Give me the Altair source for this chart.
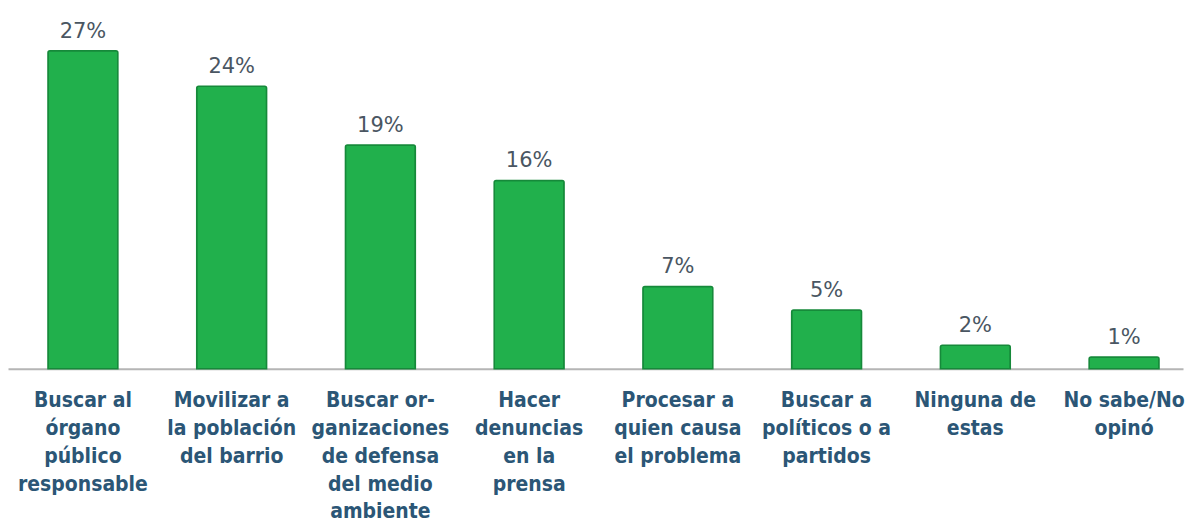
import altair as alt
import pandas as pd

categories = [
    "Buscar al|órgano|público|responsable",
    "Movilizar a|la población|del barrio",
    "Buscar or-|ganizaciones|de defensa|del medio|ambiente",
    "Hacer|denuncias|en la|prensa",
    "Procesar a|quien causa|el problema",
    "Buscar a|políticos o a|partidos",
    "Ninguna de|estas",
    "No sabe/No|opinó",
]
values = [27, 24, 19, 16, 7, 5, 2, 1]
value_labels = [f"{v}%" for v in values]

df = pd.DataFrame({"cat": categories, "val": values, "lab": value_labels})

x = alt.X(
    "cat:N",
    sort=categories,
    title=None,
    scale=alt.Scale(paddingInner=0.53, paddingOuter=0.215, align=0.625),
    axis=alt.Axis(
        labelExpr="split(datum.label, '|')",
        labelAngle=0,
        labelFont="Liberation Sans Narrow, DejaVu Sans Condensed, sans-serif",
        labelFontWeight="bold",
        labelFontSize=21,
        labelLineHeight=27.8,
        labelColor="#2b5676",
        labelBaseline="top",
        labelPadding=21,
        labelLimit=0,
        labelOverlap=False,
        ticks=False,
        tickSize=0,
        domainColor="#b5b5b5",
        domainWidth=2,
    ),
)
y = alt.Y("val:Q", scale=alt.Scale(domain=[0, 30.6], nice=False), axis=None)

bars = alt.Chart(df).mark_bar(
    color="#21b04c", stroke="#16893a", strokeWidth=1.5, cornerRadiusTopLeft=2, cornerRadiusTopRight=2
).encode(x=x, y=y)

text = alt.Chart(df).mark_text(
    dy=-13, baseline="alphabetic", font="DejaVu Sans", fontSize=21, color="#4a5662"
).encode(x=alt.X("cat:N", sort=categories), y="val:Q", text="lab:N")

chart = (
    alt.layer(bars, text)
    .properties(width=1177, height=361, padding=0)
    .configure_view(stroke=None)
)

chart.save("out.html", embed_options={"renderer": "svg", "actions": False})
